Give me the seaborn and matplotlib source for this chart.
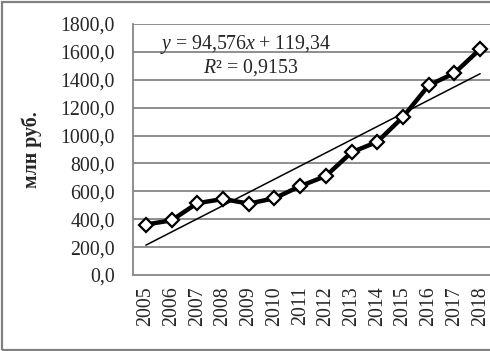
import matplotlib
matplotlib.use("Agg")
import matplotlib.pyplot as plt
import seaborn as sns
import numpy as np
import pandas as pd
from matplotlib.patches import Rectangle

years = [2005, 2006, 2007, 2008, 2009, 2010, 2011, 2012, 2013, 2014, 2015, 2016, 2017, 2018]
values = [362, 392, 515, 545, 512, 550, 637, 710, 880, 955, 1133, 1360, 1448, 1620]
trend_slope = 94.576
trend_intercept = 119.34
r2 = 0.9153
yticks = [0, 200, 400, 600, 800, 1000, 1200, 1400, 1600, 1800]
ylabel = "млн руб."

sns.set_theme(style="white")
plt.rcParams['font.family'] = ['Liberation Serif', 'DejaVu Serif']
plt.rcParams['mathtext.fontset'] = 'custom'
plt.rcParams['mathtext.rm'] = 'Liberation Serif'
plt.rcParams['mathtext.it'] = 'Liberation Serif:italic'

FS = 14.3
W, H = 490, 351
fig = plt.figure(figsize=(W / 100, H / 100), dpi=100)
fig.patch.set_facecolor("white")

# outer frame
fig.add_artist(Rectangle((1.5 / W, 1.5 / H), 1.2, (H - 3.5) / H, transform=fig.transFigure,
                         fill=False, edgecolor="#808080", linewidth=1.6))

ax = fig.add_axes([133 / W, 76 / H, 360 / W, 251 / H])

df = pd.DataFrame({"pos": np.arange(len(years)), "value": values})
idx = np.arange(1, len(years) + 1)
trend = trend_slope * idx + trend_intercept
dft = pd.DataFrame({"pos": np.arange(len(years)), "trend": trend})

for t in yticks[1:]:
    ax.axhline(t, color="#868686", linewidth=1.3, zorder=0)

sns.lineplot(data=dft, x="pos", y="trend", ax=ax, color="black", linewidth=1.1, zorder=2)
sns.lineplot(data=df, x="pos", y="value", ax=ax, color="black", linewidth=3.2,
             marker="D", markersize=7.5, markerfacecolor="white", markeredgecolor="black",
             markeredgewidth=1.6, zorder=3)

ax.set_xlim(-0.5, len(years) - 0.5)
ax.set_ylim(0, 1800)
ax.set_yticks(yticks)
ax.set_yticklabels([f"{t},0" for t in yticks], fontsize=FS)
ax.set_xticks(np.arange(len(years)))
ax.set_xticklabels([str(y) for y in years], rotation=90, fontsize=FS)
ax.tick_params(axis="both", length=0)
ax.tick_params(axis="y", pad=13)
ax.tick_params(axis="x", pad=8)
ax.set_xlabel("")
ax.set_ylabel(ylabel, fontsize=FS, fontweight="bold", labelpad=13)

for s in ["top", "right"]:
    ax.spines[s].set_visible(False)
for s in ["left", "bottom"]:
    ax.spines[s].set_color("#868686")
    ax.spines[s].set_linewidth(1.3)

ax.text(160 / W, 1 - 45 / H,
        r"$\mathit{y}$" + f" = {str(trend_slope).replace('.', ',')}" + r"$\mathit{x}$" + f" + {str(trend_intercept).replace('.', ',')}",
        transform=fig.transFigure, fontsize=FS, va="center", ha="left")
ax.text(203 / W, 1 - 68 / H,
        r"$\mathit{R}$" + f"² = {str(r2).replace('.', ',')}",
        transform=fig.transFigure, fontsize=FS, va="center", ha="left")

fig.savefig("out.png", dpi=100)
